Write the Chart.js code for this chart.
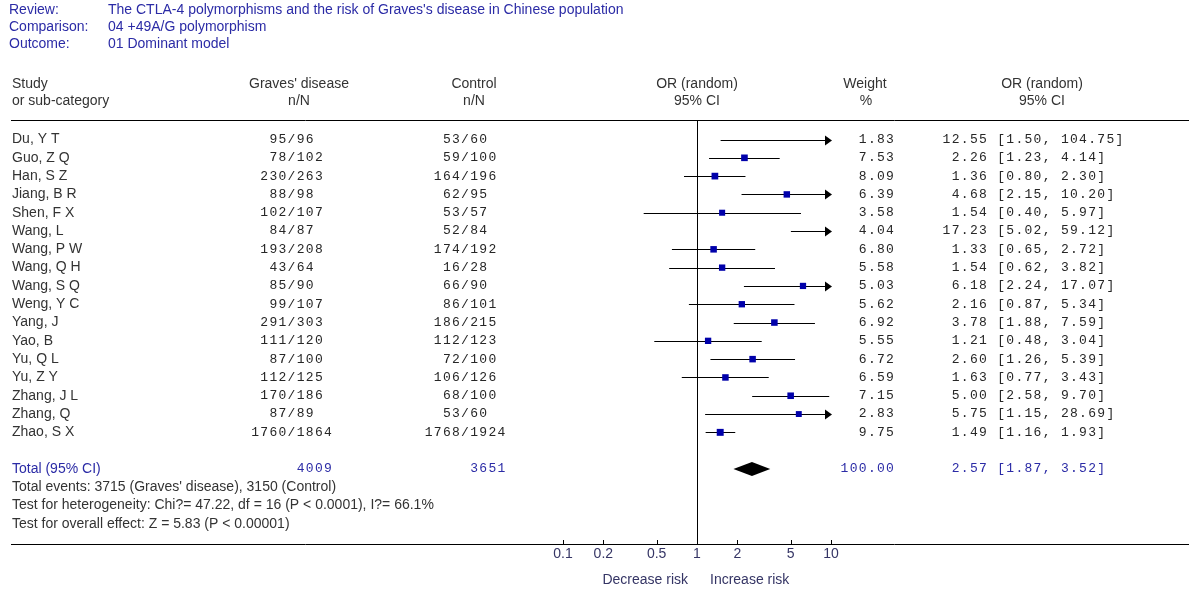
<!DOCTYPE html>
<html>
<head>
<meta charset="utf-8">
<script src="https://cdn.jsdelivr.net/npm/chart.js@4.4.0/dist/chart.umd.min.js"></script>
<style>
  html, body { margin: 0; padding: 0; background: #fff; }
  canvas { display: block; }
</style>
</head>
<body>
<canvas id="forestChart" width="1200" height="589"></canvas>
<script>
const studies = ['Du, Y T', 'Guo, Z Q', 'Han, S Z', 'Jiang, B R', 'Shen, F X', 'Wang, L', 'Wang, P W', 'Wang, Q H',
    'Wang, S Q', 'Weng, Y C', 'Yang, J', 'Yao, B', 'Yu, Q L', 'Yu, Z Y', 'Zhang, J L', 'Zhang, Q', 'Zhao, S X'];
const gravesEvents = [95, 78, 230, 88, 102, 84, 193, 43, 85, 99, 291, 111, 87, 112, 170, 87, 1760];
const gravesTotal = [96, 102, 263, 98, 107, 87, 208, 64, 90, 107, 303, 120, 100, 125, 186, 89, 1864];
const controlEvents = [53, 59, 164, 62, 53, 52, 174, 16, 66, 86, 186, 112, 72, 106, 68, 53, 1768];
const controlTotal = [60, 100, 196, 95, 57, 84, 192, 28, 90, 101, 215, 123, 100, 126, 100, 60, 1924];
const weights = [1.83, 7.53, 8.09, 6.39, 3.58, 4.04, 6.80, 5.58, 5.03, 5.62, 6.92, 5.55, 6.72, 6.59, 7.15, 2.83, 9.75];
const oddsRatios = [12.55, 2.26, 1.36, 4.68, 1.54, 17.23, 1.33, 1.54, 6.18, 2.16, 3.78, 1.21, 2.60, 1.63, 5.00, 5.75, 1.49];
const ciLower = [1.50, 1.23, 0.80, 2.15, 0.40, 5.02, 0.65, 0.62, 2.24, 0.87, 1.88, 0.48, 1.26, 0.77, 2.58, 1.15, 1.16];
const ciUpper = [104.75, 4.14, 2.30, 10.20, 5.97, 59.12, 2.72, 3.82, 17.07, 5.34, 7.59, 3.04, 5.39, 3.43, 9.70, 28.69, 1.93];

const totalGraves = 4009;
const totalControl = 3651;
const totalWeight = 100.00;
const totalOR = 2.57;
const totalLower = 1.87;
const totalUpper = 3.52;

const tickValues = [0.1, 0.2, 0.5, 1, 2, 5, 10];
const tickLabels = ['0.1', '0.2', '0.5', '1', '2', '5', '10'];

const infoLabels = ['Review:', 'Comparison:', 'Outcome:'];
const infoValues = ['The CTLA-4 polymorphisms and the risk of Graves\'s disease in Chinese population',
    '04 +49A/G polymorphism', '01 Dominant model'];
const footerLines = ['Total events: 3715 (Graves\' disease), 3150 (Control)',
    'Test for heterogeneity: Chi?= 47.22, df = 16 (P < 0.0001), I?= 66.1%',
    'Test for overall effect: Z = 5.83 (P < 0.00001)'];

const totalRow = studies.length + 1;
const sans = "14px 'Liberation Sans', Arial, sans-serif";
const mono = "13px 'Liberation Mono', 'Courier New', monospace";
const blue = '#2b2ba6';
const grey = '#333333';
const pitch = 9.1;

// draws fixed pitch text, x is the centre of the first char (or last char when right aligned)
function monoText(c, str, x, y, align) {
    const start = align === 'right' ? x - (str.length - 1) * pitch : x;
    for (let k = 0; k < str.length; k++) {
        c.fillText(str[k], start + k * pitch, y);
    }
}

function fraction(c, num, den, slashX, y) {
    const s = String(num) + '/' + String(den);
    monoText(c, s, slashX - String(num).length * pitch, y, 'left');
}

function orText(or, lo, hi) {
    return or.toFixed(2).padStart(5, ' ') + ' [' + lo.toFixed(2) + ', ' + hi.toFixed(2) + ']';
}

const forestPlugin = {
    id: 'forest',
    beforeDatasetsDraw(chart) {
        const c = chart.ctx;
        const x = chart.scales.x;
        const y = chart.scales.y;
        const area = chart.chartArea;
        c.save();
        c.strokeStyle = '#000';
        c.fillStyle = '#000';
        c.lineWidth = 1;

        // header and axis lines
        c.beginPath();
        c.moveTo(11, Math.round(area.top) + 0.5);
        c.lineTo(1189, Math.round(area.top) + 0.5);
        c.moveTo(11, Math.round(area.bottom) + 0.5);
        c.lineTo(1189, Math.round(area.bottom) + 0.5);
        const one = Math.round(x.getPixelForValue(1)) + 0.5;
        c.moveTo(one, area.top);
        c.lineTo(one, area.bottom);
        tickValues.forEach(v => {
            const px = Math.round(x.getPixelForValue(v)) + 0.5;
            c.moveTo(px, area.bottom);
            c.lineTo(px, area.bottom - 4);
        });
        c.stroke();

        // confidence intervals
        const maxPx = x.getPixelForValue(10);
        studies.forEach((s, i) => {
            const py = Math.round(y.getPixelForValue(i)) + 0.5;
            const x1 = x.getPixelForValue(ciLower[i]);
            c.beginPath();
            c.moveTo(x1, py);
            if (ciUpper[i] > 10) {
                c.lineTo(maxPx - 5, py);
                c.stroke();
                c.beginPath();
                c.moveTo(maxPx + 1, py);
                c.lineTo(maxPx - 6, py - 5);
                c.lineTo(maxPx - 6, py + 5);
                c.closePath();
                c.fill();
            } else {
                c.lineTo(x.getPixelForValue(ciUpper[i]), py);
                c.stroke();
            }
        });

        // pooled diamond
        const dy = y.getPixelForValue(totalRow);
        c.beginPath();
        c.moveTo(x.getPixelForValue(totalLower), dy);
        c.lineTo(x.getPixelForValue(totalOR), dy - 7);
        c.lineTo(x.getPixelForValue(totalUpper), dy);
        c.lineTo(x.getPixelForValue(totalOR), dy + 7);
        c.closePath();
        c.fill();
        c.restore();
    },
    afterDraw(chart) {
        const c = chart.ctx;
        const x = chart.scales.x;
        const y = chart.scales.y;
        const area = chart.chartArea;
        c.save();
        c.textBaseline = 'middle';

        c.font = sans;
        c.fillStyle = blue;
        c.textAlign = 'left';
        infoLabels.forEach((t, i) => {
            c.fillText(t, 9, 10 + i * 17);
            c.fillText(infoValues[i], 108, 10 + i * 17);
        });

        c.fillStyle = grey;
        c.fillText('Study', 12, 84);
        c.fillText('or sub-category', 12, 101);
        c.textAlign = 'center';
        c.fillText('Graves\' disease', 299, 84);
        c.fillText('n/N', 299, 101);
        c.fillText('Control', 474, 84);
        c.fillText('n/N', 474, 101);
        c.fillText('OR (random)', x.getPixelForValue(1), 84);
        c.fillText('95% CI', x.getPixelForValue(1), 101);
        c.fillText('Weight', 865, 84);
        c.fillText('%', 866, 101);
        c.fillText('OR (random)', 1042, 84);
        c.fillText('95% CI', 1042, 101);

        c.textAlign = 'left';
        studies.forEach((s, i) => c.fillText(s, 12, y.getPixelForValue(i)));
        footerLines.forEach((t, i) => c.fillText(t, 12, y.getPixelForValue(totalRow + 1 + i)));

        c.font = mono;
        c.fillStyle = '#262626';
        c.textAlign = 'center';
        studies.forEach((s, i) => {
            const py = y.getPixelForValue(i);
            fraction(c, gravesEvents[i], gravesTotal[i], 291.5, py);
            fraction(c, controlEvents[i], controlTotal[i], 465, py);
            monoText(c, weights[i].toFixed(2), 890, py, 'right');
            monoText(c, orText(oddsRatios[i], ciLower[i], ciUpper[i]), 946.5, py, 'left');
        });

        const ty = y.getPixelForValue(totalRow);
        c.fillStyle = blue;
        monoText(c, String(totalGraves), 291.5 + 4 * pitch, ty, 'right');
        monoText(c, String(totalControl), 465 + 4 * pitch, ty, 'right');
        monoText(c, totalWeight.toFixed(2), 890, ty, 'right');
        monoText(c, orText(totalOR, totalLower, totalUpper), 946.5, ty, 'left');
        c.font = sans;
        c.textAlign = 'left';
        c.fillText('Total (95% CI)', 12, ty);

        // axis labels
        c.fillStyle = '#353565';
        c.textAlign = 'center';
        tickValues.forEach((v, i) => c.fillText(tickLabels[i], x.getPixelForValue(v), area.bottom + 10));
        c.textAlign = 'right';
        c.fillText('Decrease risk', x.getPixelForValue(1) - 9, area.bottom + 36);
        c.textAlign = 'left';
        c.fillText('Increase risk', x.getPixelForValue(1) + 13, area.bottom + 36);
        c.restore();
    }
};

const ctx = document.getElementById('forestChart').getContext('2d');
const forestChart = new Chart(ctx, {
    type: 'scatter',
    data: {
        datasets: [{
            label: 'OR',
            data: oddsRatios.map((v, i) => ({ x: v, y: i })),
            pointStyle: 'rect',
            pointRadius: c => (5.5 + weights[c.dataIndex] * 0.15) / Math.SQRT2,
            backgroundColor: '#0000aa',
            borderColor: '#0000aa',
            borderWidth: 0,
            clip: 0
        }]
    },
    options: {
        responsive: false,
        devicePixelRatio: 1,
        animation: false,
        events: [],
        layout: {
            padding: { left: 563, right: 369, top: 120, bottom: 45 }
        },
        plugins: {
            legend: { display: false },
            tooltip: { enabled: false }
        },
        scales: {
            x: {
                type: 'logarithmic',
                min: 0.1,
                max: 10,
                display: false
            },
            y: {
                type: 'linear',
                min: -1.066,
                max: 22.1,
                reverse: true,
                display: false
            }
        }
    },
    plugins: [forestPlugin]
});
</script>
</body>
</html>
